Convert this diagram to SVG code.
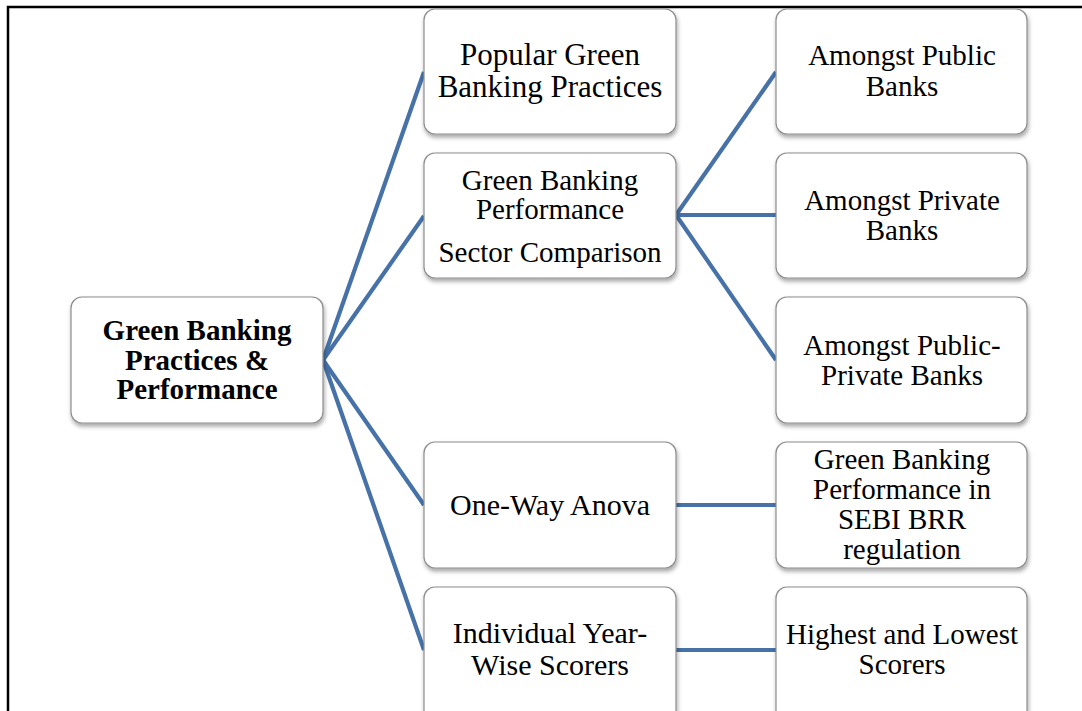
<svg xmlns="http://www.w3.org/2000/svg" width="1082" height="711" viewBox="0 0 1082 711">
  <style>
    .box { fill: #ffffff; stroke: #8c8c8c; stroke-width: 1.2; filter: url(#shadow); }
    .lbl { font-family: "Liberation Serif", "Times New Roman", serif; font-size: 29px; fill: #000; text-anchor: middle; }
    .big { font-size: 31px; }
    .mid { font-size: 30px; }
    .bold { font-weight: bold; }
    .conn { stroke: #4672a8; stroke-width: 4.2; fill: none; stroke-linecap: butt; }
  </style>
  <defs>
    <filter id="shadow" x="-10%" y="-10%" width="130%" height="140%">
      <feDropShadow dx="1" dy="3" stdDeviation="2" flood-color="#000" flood-opacity="0.35"/>
    </filter>
  </defs>
  <rect x="0" y="0" width="1082" height="711" fill="#ffffff"/>
  <!-- outer frame -->
  <rect x="8" y="7" width="1090" height="720" fill="none" stroke="#000" stroke-width="2.5"/>

  <g id="connectors">
    <line class="conn" x1="323" y1="360" x2="424" y2="72"/>
    <line class="conn" x1="323" y1="360" x2="424" y2="216"/>
    <line class="conn" x1="323" y1="360" x2="424" y2="505"/>
    <line class="conn" x1="323" y1="360" x2="424" y2="650"/>
    <line class="conn" x1="676" y1="215" x2="776" y2="72"/>
    <line class="conn" x1="676" y1="215" x2="776" y2="215"/>
    <line class="conn" x1="676" y1="215" x2="776" y2="360"/>
    <line class="conn" x1="676" y1="505" x2="776" y2="505"/>
    <line class="conn" x1="676" y1="650" x2="776" y2="650"/>
  </g>

  <g id="root">
    <rect class="box" x="71" y="297" width="252" height="126" rx="11"/>
    <text class="lbl bold" x="197" y="340">Green Banking</text>
    <text class="lbl bold" x="197" y="370">Practices &amp;</text>
    <text class="lbl bold" x="197" y="399">Performance</text>
  </g>

  <g id="popular-practices">
    <rect class="box" x="424" y="9" width="252" height="125" rx="11"/>
    <text class="lbl big" x="550" y="65">Popular Green</text>
    <text class="lbl big" x="550" y="97">Banking Practices</text>
  </g>

  <g id="sector-comparison">
    <rect class="box" x="424" y="153" width="252" height="125" rx="11"/>
    <text class="lbl" x="550" y="190">Green Banking</text>
    <text class="lbl" x="550" y="219">Performance</text>
    <text class="lbl" x="550" y="262">Sector Comparison</text>
  </g>

  <g id="one-way-anova">
    <rect class="box" x="424" y="442" width="252" height="126" rx="11"/>
    <text class="lbl mid" x="550" y="515">One-Way Anova</text>
  </g>

  <g id="year-wise-scorers">
    <rect class="box" x="424" y="587" width="252" height="140" rx="11"/>
    <text class="lbl mid" x="550" y="643">Individual Year-</text>
    <text class="lbl mid" x="550" y="675">Wise Scorers</text>
  </g>

  <g id="public-banks">
    <rect class="box" x="776" y="9" width="251" height="125" rx="11"/>
    <text class="lbl" x="902" y="65">Amongst Public</text>
    <text class="lbl" x="902" y="96">Banks</text>
  </g>

  <g id="private-banks">
    <rect class="box" x="776" y="153" width="251" height="125" rx="11"/>
    <text class="lbl" x="902" y="210">Amongst Private</text>
    <text class="lbl" x="902" y="240">Banks</text>
  </g>

  <g id="public-private-banks">
    <rect class="box" x="776" y="297" width="251" height="126" rx="11"/>
    <text class="lbl" x="902" y="355">Amongst Public-</text>
    <text class="lbl" x="902" y="385">Private Banks</text>
  </g>

  <g id="sebi-brr">
    <rect class="box" x="776" y="442" width="251" height="126" rx="11"/>
    <text class="lbl" x="902" y="469">Green Banking</text>
    <text class="lbl" x="902" y="499">Performance in</text>
    <text class="lbl" x="902" y="529">SEBI BRR</text>
    <text class="lbl" x="902" y="559">regulation</text>
  </g>

  <g id="highest-lowest">
    <rect class="box" x="776" y="587" width="251" height="140" rx="11"/>
    <text class="lbl" x="902" y="644">Highest and Lowest</text>
    <text class="lbl" x="902" y="674">Scorers</text>
  </g>
</svg>
